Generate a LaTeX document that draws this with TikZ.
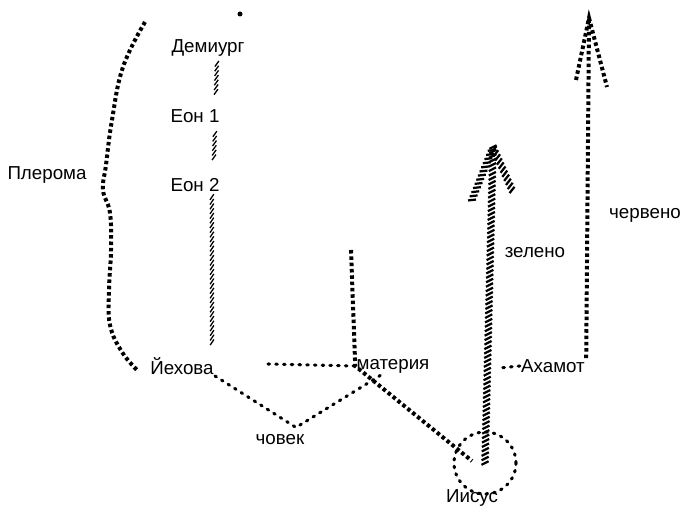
\documentclass[tikz,border=0pt]{standalone}
\usepackage{fontspec}
\setmainfont{Liberation Sans}
\usetikzlibrary{positioning,calc,decorations.markings}

\tikzset{
  lbl/.style={font=\fontsize{16}{19}\selectfont, inner sep=1pt},
  dashline/.style={line width=3.4pt, dash pattern=on 3pt off 2.4pt},
  dotline/.style={line width=2.6pt, line cap=round, dash pattern=on 1.4pt off 5.2pt},
  thinhatch/.style={postaction={decorate}, decoration={markings,
    mark=between positions 0 and 1 step 4pt with {\draw[line width=1.1pt] (-2.4pt,1.6pt) -- (2.4pt,-1.6pt);}}},
  thickhatch/.style={postaction={decorate}, decoration={markings,
    mark=between positions 0 and 1 step 3.8pt with {\draw[line width=1.9pt] (-1.6pt,3pt) -- (1.6pt,-3pt);}}},
}

\begin{document}
\begin{tikzpicture}[x=0.03cm, y=-0.03cm]
\useasboundingbox (0,0) rectangle (684,511);

% ================= LABELS =================
\node[lbl] (demiurg)  at (208,48)  {Демиург};
\node[lbl] (eon1)     at (195,116) {Еон 1};
\node[lbl] (eon2)     at (195,185) {Еон 2};
\node[lbl] (pleroma)  at (47,175)  {Плерома};
\node[lbl] (jehova)   at (182,366) {Йехова};
\node[lbl] (materia)  at (393,366) {материя};
\node[lbl] (chovek)   at (280,440) {човек};
\node[lbl] (ahamot)   at (553,366) {Ахамот};
\node[lbl] (iisus)    at (472,498) {Иисус};
\node[lbl] (zeleno)   at (535,253) {зелено};
\node[lbl] (cherveno) at (645,215) {червено};

% loop round Iisus
\node[dotline, draw, circle, minimum size=1.86cm, inner sep=0pt] (loop) at (485,463) {};

% ================= PLEROMA BRACE =================
\draw[dashline] plot[smooth, tension=0.7] coordinates
  {(145,22) (123,67) (112,120) (106,165) (103,190) (110,213)
   (111,250) (109,290) (110,325) (122,352) (138,371)};
\fill (240,14) circle (2.5);

% ================= AEON CHAIN =================
\path[thinhatch] ($(demiurg.south east)+(-29,6)$) -- ($(eon1.north east)+(-5,-12)$);
\path[thinhatch] ($(eon1.south east)+(-6,10)$) -- ($(eon2.north east)+(-7,-17)$);
\path[thinhatch] ($(eon2.south east)+(-9,4)$) -- ($(jehova.north east)+(-3,-10)$);

% --- matter ---
\coordinate (mtop) at (351,250);
\coordinate (hl) at (268,364);
\draw[dashline] (mtop) -- (materia.west) -- ($(loop.center)+(-13,-2)$);
\draw[dotline] (hl) -- (materia.west);

% --- man ---
\draw[dotline] (jehova.south east) -- ($(chovek.north)+(16,-6)$)
  -- ($(materia.south west)+(30,-2)$);

% ================= ARROWS =================
% --- green ---
\coordinate (gtip) at (493,147);
\coordinate (gl) at (472,200);
\coordinate (gr) at (512,190);
\path[thickhatch] (loop.center) -- (gtip);
\path[thickhatch] (gl) -- (gtip);
\path[thickhatch] (gr) -- (gtip);
\draw[dotline] (ahamot.west) -- ++(-21,2);

% --- red ---
\coordinate (rtop) at (589,18);
\coordinate (rl) at (576,80);
\coordinate (rr) at (607,87);
\draw[dashline] (ahamot.north east) -- (rtop);
\draw[dashline] (rl) -- (rtop) -- (rr);

\end{tikzpicture}
\end{document}
